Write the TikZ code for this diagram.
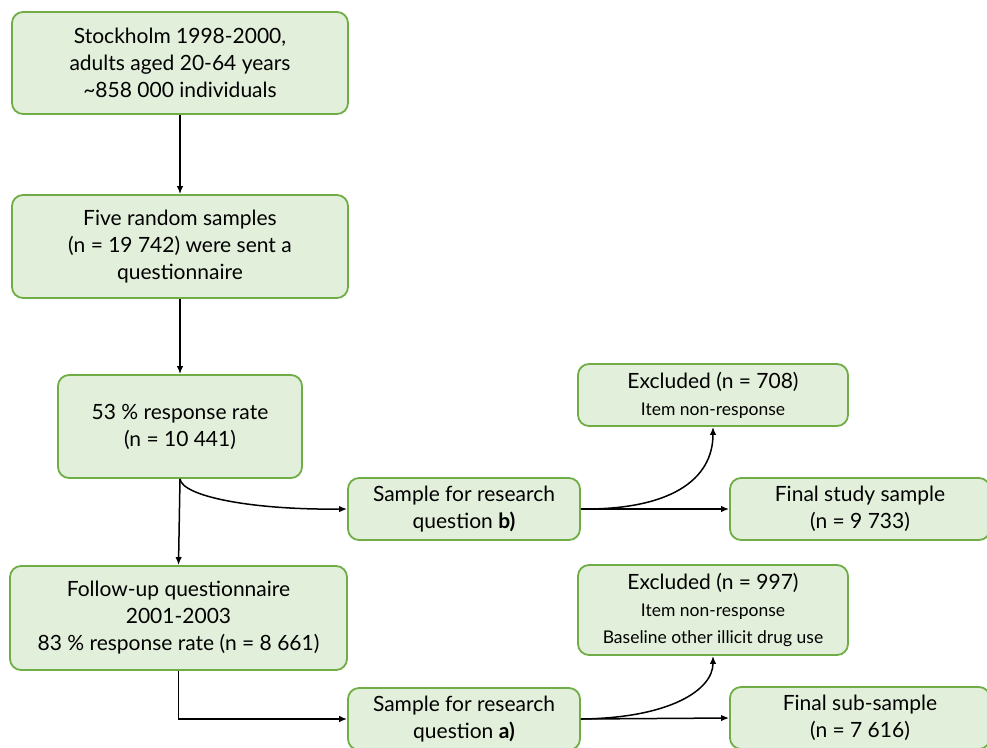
\documentclass[tikz,border=0pt]{standalone}
\usepackage{fontspec}
\setmainfont{Lato}
\usetikzlibrary{arrows.meta}
\definecolor{boxfill}{HTML}{E2EFDA}
\definecolor{boxline}{HTML}{70AD47}
\begin{document}
\begin{tikzpicture}[x=1pt,y=-1pt,
  box/.style={draw=boxline, fill=boxfill, line width=1.8pt, rounded corners=11pt,
    align=center, inner sep=2pt, font=\fontsize{21}{27}\selectfont},
  arr/.style={-{Latex[length=8pt,width=6.5pt]}, line width=1.5pt, black}]
\useasboundingbox (0,0) rectangle (987,747);
\node[box, minimum width=336pt, minimum height=102pt] (b1) at (180,63)
  {Stockholm 1998-2000,\\adults aged 20-64 years\\\textasciitilde858 000 individuals};
\node[box, minimum width=336pt, minimum height=103pt] (b2) at (180,246.5)
  {Five random samples\\(n = 19 742) were sent a\\questionnaire};
\node[box, minimum width=244pt, minimum height=103pt] (b3) at (180,426.5)
  {53 \% response rate\\(n = 10 441)};
\node[box, minimum width=337pt, minimum height=104pt] (b4) at (178.5,618)
  {Follow-up questionnaire\\2001-2003\\83 \% response rate (n = 8 661)};
\node[box, minimum width=232pt, minimum height=62pt] (bb) at (464,509)
  {Sample for research\\question \textbf{b)}};
\node[box, minimum width=270pt, minimum height=62pt] (e1) at (713,395)
  {Excluded (n = 708)\\{\fontsize{17.5}{22}\selectfont Item non-response}};
\node[box, minimum width=260pt, minimum height=62pt] (f1) at (860,509)
  {Final study sample\\(n = 9 733)};
\node[box, minimum width=232pt, minimum height=62pt] (ba) at (464,719)
  {Sample for research\\question \textbf{a)}};
\node[box, minimum width=270pt, minimum height=90pt] (e2) at (713,610)
  {Excluded (n = 997)\\{\fontsize{17.5}{23}\selectfont Item non-response}\\{\fontsize{17.5}{23}\selectfont Baseline other illicit drug use}};
\node[box, minimum width=260pt, minimum height=62pt] (f2) at (860,718)
  {Final sub-sample\\(n = 7 616)};
\draw[arr] (b1) -- (b2);
\draw[arr] (b2) -- (b3);
\draw[arr] (b3.south) -- (b4.north);
\draw[arr] (b3.south) .. controls (182,496) and (250,510) .. (bb.west);
\draw[arr] (b4.south) |- (ba.west);
\draw[arr] (bb.east) -- (f1.west);
\draw[arr] (bb.east) .. controls (670,510) and (713,480) .. (e1.south);
\draw[arr] (ba.east) -- (f2.west);
\draw[arr] (ba.east) .. controls (670,718) and (713,690) .. (e2.south);
\end{tikzpicture}
\end{document}
